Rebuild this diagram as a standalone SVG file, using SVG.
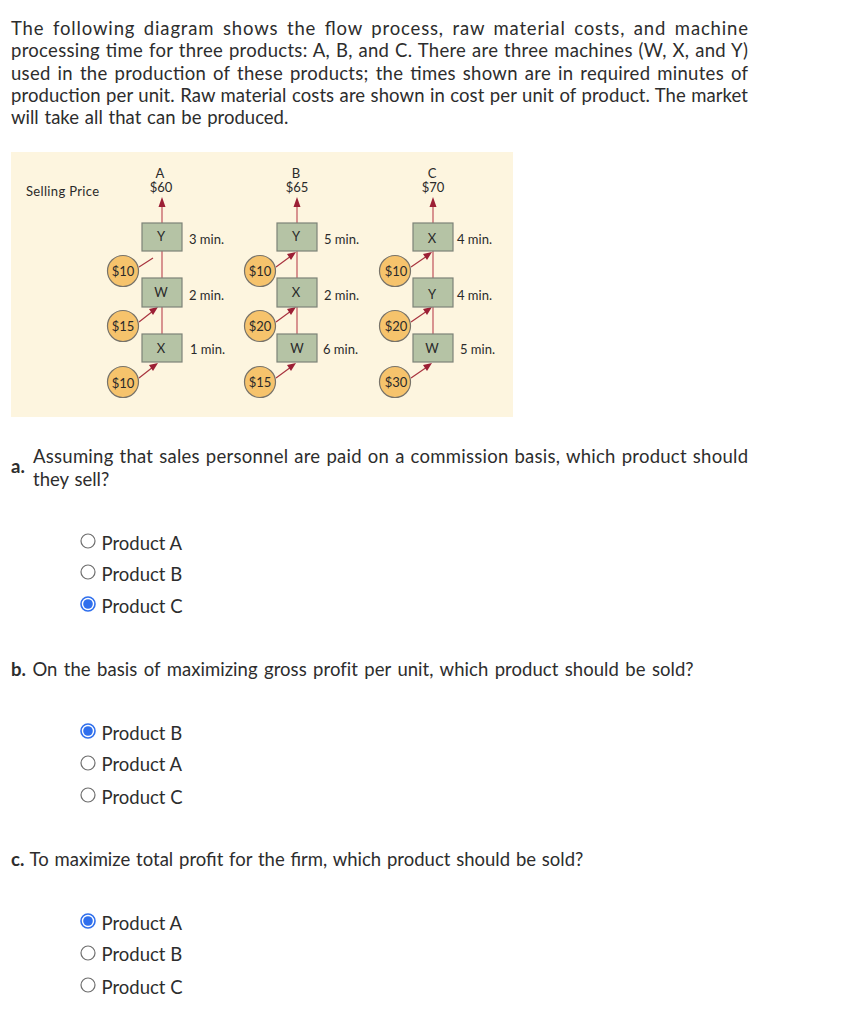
<svg xmlns="http://www.w3.org/2000/svg" width="845" height="1024" viewBox="0 0 845 1024">
<style>
.t{font-family:"Lato","Liberation Sans",sans-serif;font-size:18.5px;fill:#2d2d2d}
.b{font-weight:700}
.d{font-family:"Lato","Liberation Sans",sans-serif;font-size:13px;fill:#2a2a2a}
.m{text-anchor:middle}
.box{fill:#b5c3a5;stroke:#7d8378;stroke-width:1.2}
.cir{fill:#f6c36c;stroke:#77736a;stroke-width:1.2}
.l{stroke:#a8343f;stroke-width:1.2;fill:none}
.v{stroke:#c0525c;stroke-width:1.2;fill:none}
.h{fill:#9c1f35}
.r{fill:#fff;stroke:#6e6e6e;stroke-width:1.2}
.rs{fill:#fff;stroke:#2f6fed;stroke-width:1.6}
.rd{fill:#2f6fed}
</style>
<rect width="845" height="1024" fill="#fff"/>
<g id="intro">
<text class="t" x="11" y="35" word-spacing="3" textLength="737" lengthAdjust="spacing">The following diagram shows the flow process, raw material costs, and machine</text>
<text class="t" x="11" y="57" word-spacing="0.8" textLength="737" lengthAdjust="spacing">processing time for three products: A, B, and C. There are three machines (W, X, and Y)</text>
<text class="t" x="11" y="80" word-spacing="2" textLength="737" lengthAdjust="spacing">used in the production of these products; the times shown are in required minutes of</text>
<text class="t" x="11" y="102" word-spacing="0.6" textLength="737" lengthAdjust="spacing">production per unit. Raw material costs are shown in cost per unit of product. The market</text>
<text class="t" x="11" y="124" word-spacing="1.1">will take all that can be produced.</text>
</g>
<rect id="panel" x="11" y="152" width="502" height="265" fill="#fdf5df"/>
<text class="d" x="26" y="196" textLength="73" lengthAdjust="spacing">Selling Price</text>
<g id="connectors">
<path class="v" d="M162 223V205M162 251V278M162 307V334M297 223V205M297 251V278M297 307V334M433 223V205M433 251V278M433 307V334"/>
<path class="l" d="M139 267L153 258M139 322L153 311M139 378L153 367M276 267L291 256M276 322L291 311M276 378L291 367M411 267L427 256M411 322L427 311M411 378L427 367"/>
<path class="h" d="M162 197l-3.500 10h7zM297 197l-3.500 10h7zM433 197l-3.500 10h7z"/>
<path class="h" d="M158 307l-9 2 4 6zM158 363l-9 2 4 6zM296 252l-9 2 4 6zM296 307l-9 2 4 6zM296 363l-9 2 4 6zM432 252l-9 2 4 6zM432 307l-9 2 4 6zM432 363l-9 2 4 6z"/>
</g>
<g id="product-A">
<text class="d m" x="160" y="178">A</text><text class="d m" x="161" y="192">$60</text>
<rect class="box" x="142" y="223" width="40" height="28"/><text class="d m" x="161" y="241">Y</text><text class="d" x="189" y="244">3 min.</text>
<rect class="box" x="142" y="278" width="40" height="29"/><text class="d m" x="161" y="297">W</text><text class="d" x="189" y="300">2 min.</text>
<rect class="box" x="142" y="334" width="40" height="28"/><text class="d m" x="161" y="353">X</text><text class="d" x="190" y="354">1 min.</text>
<circle class="cir" cx="123" cy="271" r="15.500"/><text class="d m" x="123" y="276">$10</text>
<circle class="cir" cx="123" cy="326" r="15.500"/><text class="d m" x="123" y="331">$15</text>
<circle class="cir" cx="123" cy="382" r="15.500"/><text class="d m" x="123" y="388">$10</text>
</g>
<g id="product-B">
<text class="d m" x="296" y="178">B</text><text class="d m" x="297" y="192">$65</text>
<rect class="box" x="277" y="223" width="40" height="28"/><text class="d m" x="296" y="241">Y</text><text class="d" x="324" y="244">5 min.</text>
<rect class="box" x="277" y="278" width="40" height="29"/><text class="d m" x="296" y="297">X</text><text class="d" x="324" y="300">2 min.</text>
<rect class="box" x="277" y="334" width="40" height="28"/><text class="d m" x="297" y="353">W</text><text class="d" x="323" y="354">6 min.</text>
<circle class="cir" cx="260" cy="271" r="15.500"/><text class="d m" x="260" y="276">$10</text>
<circle class="cir" cx="260" cy="326" r="15.500"/><text class="d m" x="260" y="331">$20</text>
<circle class="cir" cx="260" cy="382" r="15.500"/><text class="d m" x="260" y="387">$15</text>
</g>
<g id="product-C">
<text class="d m" x="432" y="178">C</text><text class="d m" x="433" y="192">$70</text>
<rect class="box" x="413" y="223" width="40" height="28"/><text class="d m" x="432" y="243">X</text><text class="d" x="457" y="244">4 min.</text>
<rect class="box" x="413" y="278" width="40" height="29"/><text class="d m" x="432" y="299">Y</text><text class="d" x="457" y="300">4 min.</text>
<rect class="box" x="413" y="334" width="40" height="28"/><text class="d m" x="432" y="353">W</text><text class="d" x="460" y="354">5 min.</text>
<circle class="cir" cx="395" cy="271" r="15.500"/><text class="d m" x="396" y="276">$10</text>
<circle class="cir" cx="395" cy="326" r="15.500"/><text class="d m" x="396" y="331">$20</text>
<circle class="cir" cx="395" cy="382" r="15.500"/><text class="d m" x="396" y="387">$30</text>
</g>
<g id="question-a">
<text class="t b" x="11" y="473">a.</text>
<text class="t" x="33" y="463" word-spacing="1" textLength="715" lengthAdjust="spacing">Assuming that sales personnel are paid on a commission basis, which product should</text>
<text class="t" x="33" y="486" word-spacing="1.1">they sell?</text>
<circle class="r" cx="88" cy="541" r="7"/><text class="t" x="101.500" y="550">Product A</text>
<circle class="r" cx="88" cy="572" r="7"/><text class="t" x="101.500" y="581">Product B</text>
<circle class="rs" cx="88" cy="604" r="7"/><circle class="rd" cx="88" cy="604" r="4.800"/><text class="t" x="101.500" y="613">Product C</text>
</g>
<g id="question-b">
<text class="t" x="11" y="676" word-spacing="1.6" letter-spacing="0.05"><tspan class="b">b.</tspan> On the basis of maximizing gross profit per unit, which product should be sold?</text>
<circle class="rs" cx="88" cy="731" r="7"/><circle class="rd" cx="88" cy="731" r="4.800"/><text class="t" x="101.500" y="740">Product B</text>
<circle class="r" cx="88" cy="763" r="7"/><text class="t" x="101.500" y="771">Product A</text>
<circle class="r" cx="88" cy="795" r="7"/><text class="t" x="101.500" y="804">Product C</text>
</g>
<g id="question-c">
<text class="t" x="11" y="866" word-spacing="1.1"><tspan class="b">c.</tspan> To maximize total profit for the firm, which product should be sold?</text>
<circle class="rs" cx="88" cy="921" r="7"/><circle class="rd" cx="88" cy="921" r="4.800"/><text class="t" x="101.500" y="930">Product A</text>
<circle class="r" cx="88" cy="953" r="7"/><text class="t" x="101.500" y="961">Product B</text>
<circle class="r" cx="88" cy="985" r="7"/><text class="t" x="101.500" y="994">Product C</text>
</g>
</svg>
